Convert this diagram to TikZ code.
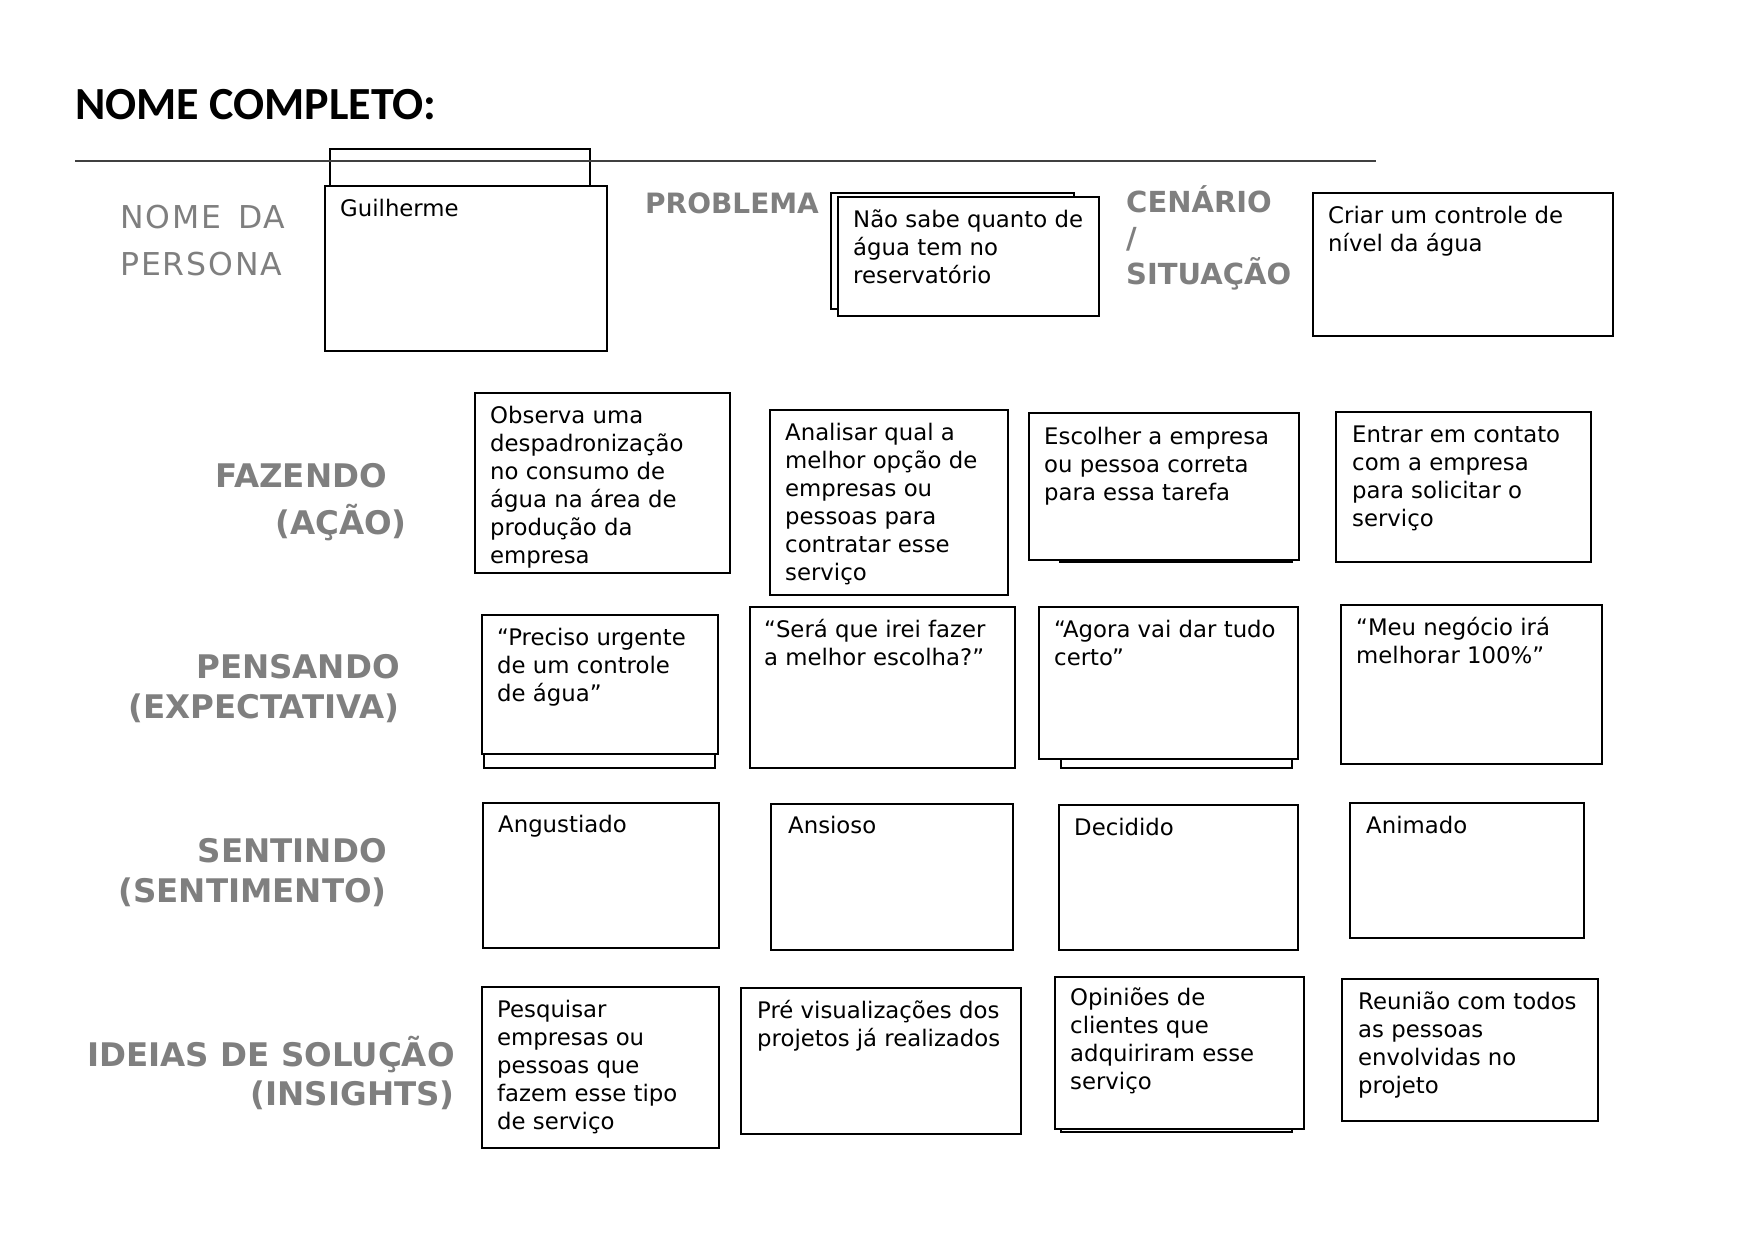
\documentclass[tikz,border=0pt]{standalone}
\usepackage{fontspec}
\setmainfont{DejaVu Sans}
\newfontfamily\titlefont{Carlito}
\newfontfamily\spacedfont{DejaVu Sans}[LetterSpace=6]
\definecolor{headgray}{HTML}{7F7F7F}
\definecolor{rulegray}{HTML}{404040}
\newcommand\hstrut[1]{\rule{0pt}{#1}}
\tikzset{
  card/.style={draw=black, line width=1.6pt, fill=white},
  backcard/.style={draw=black, line width=1.6pt},
  cardtext/.style={anchor=north west, inner sep=0pt, align=left, text=black,
    font=\fontsize{22.8pt}{28pt}\selectfont},
  headR/.style={anchor=north east, inner sep=0pt, align=right, text=headgray,
    font=\bfseries\fontsize{32.5pt}{#1}\selectfont},
}
\begin{document}
\begin{tikzpicture}[x=1pt,y=-1pt]
\useasboundingbox[fill=white] (0,0) rectangle (1753,1240);

% title
\node[anchor=base west, inner sep=0pt, font=\titlefont\bfseries\fontsize{46pt}{52pt}\selectfont] (title) at (75,119) {NOME COMPLETO:};

% persona
\draw[backcard] (330,149) rectangle (590,200);
\draw[rulegray, line width=2pt] (75,161) -- (1376,161);
\draw[card] (325,186) rectangle (607,351);
\node[cardtext] (tguil) at (340,192) {\hstrut{24pt}Guilherme};
\node[anchor=north west, inner sep=0pt, align=left, text=headgray, font=\spacedfont\fontsize{31.5pt}{47pt}\selectfont] (hpersona) at (120,194) {\hstrut{34pt}NOME\hspace{17pt}DA\\PERSONA};

% problema
\node[anchor=base west, inner sep=0pt, text=headgray, font=\bfseries\fontsize{28pt}{34pt}\selectfont] (hprob) at (645,213) {PROBLEMA};
\draw[card] (831,193) rectangle (1074,309);
\draw[card] (838,197) rectangle (1099,316);
\node[cardtext] (tprob) at (853,203) {\hstrut{24pt}Não sabe quanto de\\água tem no\\reservatório};

% cenario
\node[anchor=north west, inner sep=0pt, align=left, text=headgray, font=\bfseries\fontsize{29pt}{36pt}\selectfont] (hcen) at (1126,178) {\hstrut{34pt}CENÁRIO\\/\\SITUAÇÃO};
\draw[card] (1313,193) rectangle (1613,336);
\node[cardtext] (tcen) at (1328,199) {\hstrut{24pt}Criar um controle de\\nível da água};

% fazendo
\node[headR=47pt] (hfaz) at (407,451) {\hstrut{36pt}FAZENDO\hspace{20pt}\mbox{}\\(AÇÃO)};
\draw[card] (475,393) rectangle (730,573);
\node[cardtext] (tf1) at (490,399) {\hstrut{24pt}Observa uma\\despadronização\\no consumo de\\água na área de\\produção da\\empresa};
\draw[card] (770,410) rectangle (1008,595);
\node[cardtext] (tf2) at (785,416) {\hstrut{24pt}Analisar qual a\\melhor opção de\\empresas ou\\pessoas para\\contratar esse\\serviço};
\draw[card] (1060,420) rectangle (1292,562);
\draw[card] (1029,413) rectangle (1299,560);
\node[cardtext] (tf3) at (1044,420) {\hstrut{24pt}Escolher a empresa\\ou pessoa correta\\para essa tarefa};
\draw[card] (1336,412) rectangle (1591,562);
\node[cardtext] (tf4) at (1352,418) {\hstrut{24pt}Entrar em contato\\com a empresa\\para solicitar o\\serviço};

% pensando
\node[headR=40pt] (hpen) at (400,642) {\hstrut{36pt}PENSANDO\\(EXPECTATIVA)};
\draw[card] (484,620) rectangle (715,768);
\draw[card] (482,615) rectangle (718,754);
\node[cardtext] (tp1) at (497,621) {\hstrut{24pt}“Preciso urgente\\de um controle\\de água”};
\draw[card] (750,607) rectangle (1015,768);
\node[cardtext] (tp2) at (764,613) {\hstrut{24pt}“Será que irei fazer\\a melhor escolha?”};
\draw[card] (1061,620) rectangle (1292,768);
\draw[card] (1039,607) rectangle (1298,759);
\node[cardtext] (tp3) at (1054,613) {\hstrut{24pt}“Agora vai dar tudo\\certo”};
\draw[card] (1341,605) rectangle (1602,764);
\node[cardtext] (tp4) at (1356,611) {\hstrut{24pt}“Meu negócio irá\\melhorar 100\%”};

% sentindo
\node[headR=40pt] (hsen) at (387,826) {\hstrut{36pt}SENTINDO\\(SENTIMENTO)};
\draw[card] (483,803) rectangle (719,948);
\node[cardtext] (ts1) at (498,808) {\hstrut{24pt}Angustiado};
\draw[card] (771,804) rectangle (1013,950);
\node[cardtext] (ts2) at (788,809) {\hstrut{24pt}Ansioso};
\draw[card] (1059,805) rectangle (1298,950);
\node[cardtext] (ts3) at (1074,811) {\hstrut{24pt}Decidido};
\draw[card] (1350,803) rectangle (1584,938);
\node[cardtext] (ts4) at (1366,809) {\hstrut{24pt}Animado};

% ideias
\node[headR=39pt] (hide) at (455,1030) {\hstrut{36pt}IDEIAS DE SOLUÇÃO\\(INSIGHTS)};
\draw[card] (482,987) rectangle (719,1148);
\node[cardtext] (ti1) at (497,993) {\hstrut{24pt}Pesquisar\\empresas ou\\pessoas que\\fazem esse tipo\\de serviço};
\draw[card] (741,988) rectangle (1021,1134);
\node[cardtext] (ti2) at (757,994) {\hstrut{24pt}Pré visualizações dos\\projetos já realizados};
\draw[card] (1061,985) rectangle (1292,1132);
\draw[card] (1055,977) rectangle (1304,1129);
\node[cardtext] (ti3) at (1070,981) {\hstrut{24pt}Opiniões de\\clientes que\\adquiriram esse\\serviço};
\draw[card] (1342,979) rectangle (1598,1121);
\node[cardtext] (ti4) at (1358,985) {\hstrut{24pt}Reunião com todos\\as pessoas\\envolvidas no\\projeto};
\end{tikzpicture}
\end{document}
